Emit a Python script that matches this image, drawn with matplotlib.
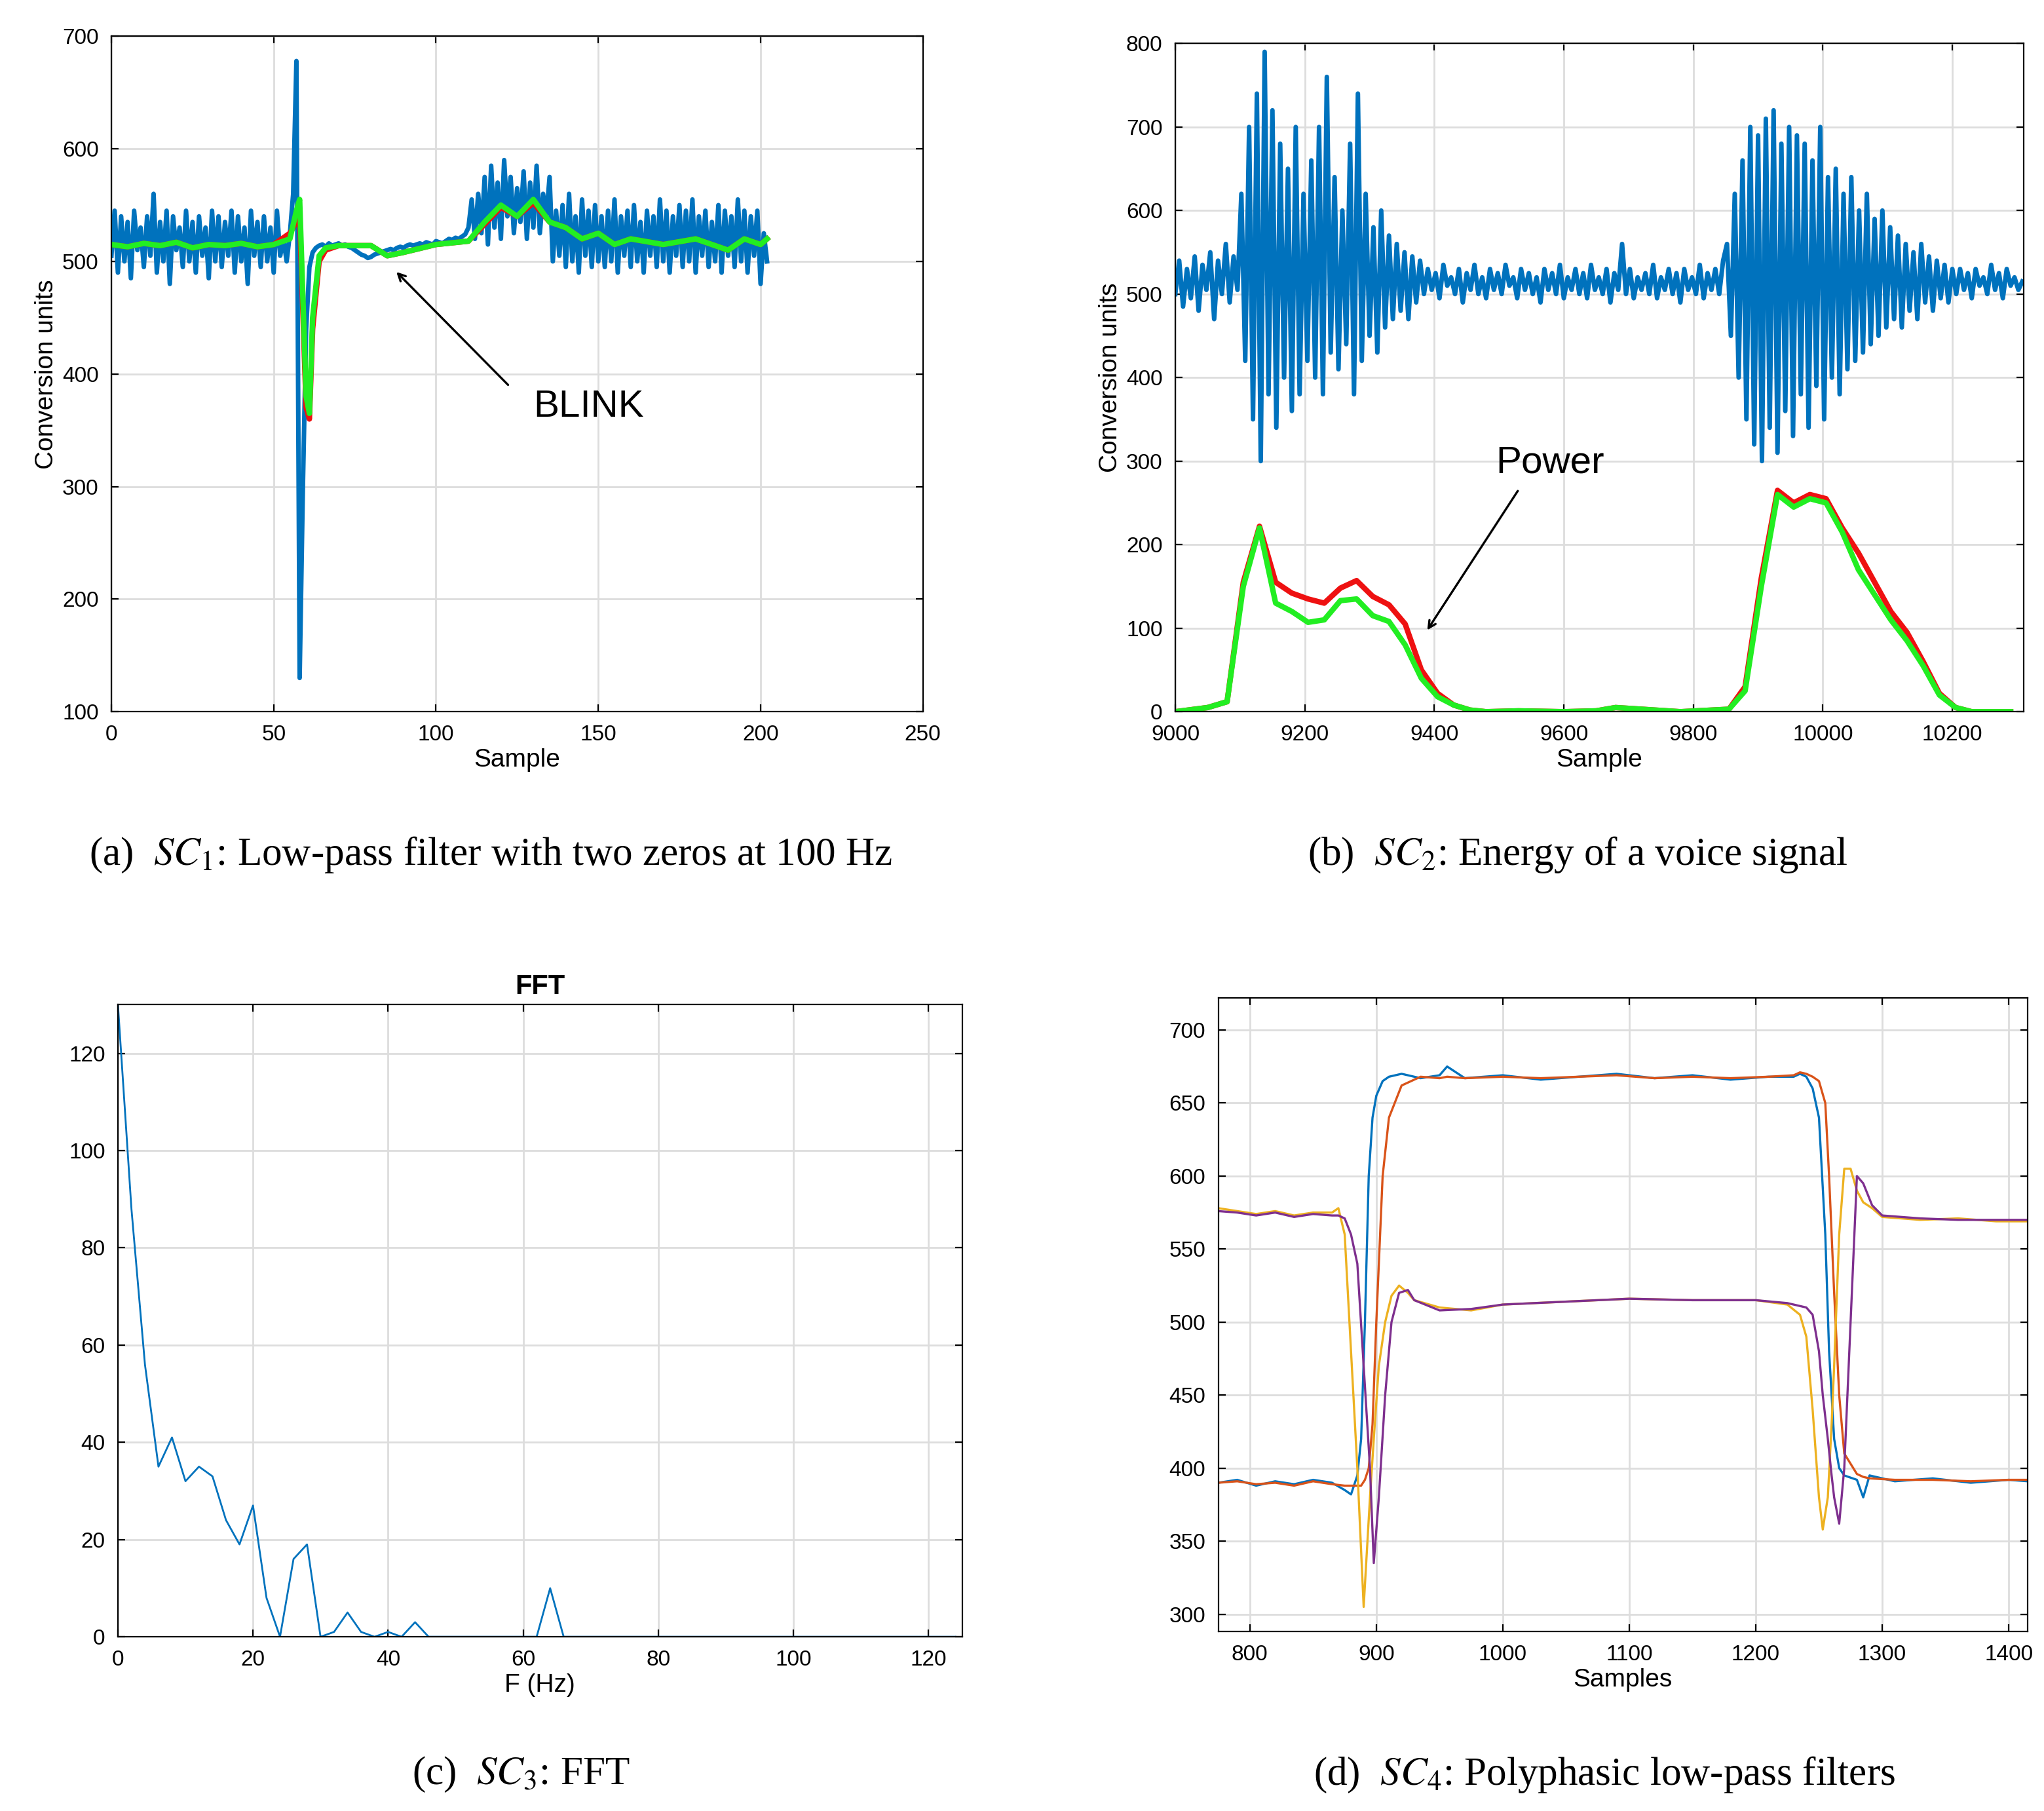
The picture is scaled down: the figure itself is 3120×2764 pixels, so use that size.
import matplotlib.pyplot as plt
import numpy as np

plt.rcParams['font.family'] = 'Liberation Sans'
plt.rcParams['mathtext.fontset'] = 'stix'

# (a) SC1 raw samples and filter outputs
a_blue = [505,545,490,540,500,535,485,545,510,530,495,540,505,560,490,535,500,545,480,540,
          510,530,495,545,500,535,490,540,505,530,485,545,500,540,495,535,505,545,490,540,
          500,530,480,545,505,535,495,540,500,530,490,545,505,520,500,525,
          560,678,130,300,440,495,508,512,
          514,515,513,516,514,515,516,514,515,513,512,510,508,506,505,503,504,506,507,508,
          509,510,511,510,512,513,512,514,515,514,515,516,515,517,516,515,518,517,516,518,
          520,519,521,520,522,524,
          530,555,520,560,525,575,515,585,530,570,520,590,540,575,525,565,535,580,520,570,
          530,585,525,560,540,575,
          500,545,505,550,495,560,500,540,490,555,505,545,495,550,500,540,495,545,500,555,
          490,540,505,545,495,550,500,535,490,545,505,540,495,555,500,545,490,540,505,550,
          495,545,500,555,490,540,505,545,495,535,500,550,490,545,505,540,495,555,500,545,
          490,540,505,545,480,525,500]
a_fx = [0,5,10,15,20,25,30,35,40,45,50,55,57,58,60,61,62,64,66,70,80,85,90,100,110,115,
        120,125,130,135,140,145,150,155,160,170,180,185,190,195,200,202]
a_green = [515,513,516,514,517,512,515,514,516,513,515,520,545,555,380,365,450,505,512,514,
           514,505,508,515,518,535,550,540,555,535,530,520,525,515,520,515,520,515,510,520,515,520]
a_red = [515,513,516,514,517,512,515,514,516,513,515,525,535,540,370,360,440,500,510,514,
         514,505,508,515,518,533,548,540,552,535,530,520,525,515,520,515,520,515,510,520,515,520]

# (b) SC2 voice signal (step 6 samples from 9000) and power
b_voice = [500,540,485,530,495,545,480,535,505,550,470,540,500,560,490,545,505,
           620,420,700,350,740,300,790,380,720,340,680,400,650,360,700,380,620,420,660,400,
           700,380,760,430,640,410,600,440,680,380,740,420,620,450,580,430,600,460,570,470,
           560,480,550,470,545,490,540,
           500,530,505,525,495,535,510,520,500,530,490,525,505,535,500,520,495,530,505,525,
           500,535,510,520,495,530,505,525,500,520,490,530,505,525,500,535,495,520,505,530,
           500,525,495,535,505,520,500,530,490,525,505,560,500,530,495,520,505,525,500,535,
           495,520,505,530,500,525,490,530,505,520,500,535,495,525,505,530,500,540,
           560,450,620,400,660,350,700,320,690,300,710,340,720,310,680,360,700,330,690,380,
           680,340,660,390,700,350,640,400,650,380,620,410,640,420,600,430,620,440,590,450,
           600,460,580,470,570,460,560,480,550,470,560,490,545,480,540,495,535,490,530,
           500,530,505,525,495,530,510,520,500,535,505,525,495,530,510,520,505,515]
b_px = [9000,9050,9080,9105,9130,9155,9180,9205,9230,9255,9280,9305,9330,9355,9380,9405,9430,
        9455,9480,9530,9600,9650,9680,9720,9780,9830,9855,9880,9905,9930,9955,9980,10005,
        10030,10055,10080,10105,10130,10155,10180,10205,10230,10290]
b_green = [0,5,12,150,220,130,120,107,110,133,135,115,108,80,40,18,8,2,0,1,0,1,5,3,0,2,3,
           25,150,260,245,255,250,215,170,140,110,85,55,20,5,0,0]
b_red = [0,5,12,155,222,155,142,135,130,148,157,138,128,105,50,22,8,2,0,1,0,1,5,3,0,2,3,
         30,160,265,250,260,255,220,190,155,120,95,60,22,5,0,0]

# (c) SC3 FFT
c_freq = list(range(0, 126, 2))
c_mag = [130,88,56,35,41,32,35,33,24,19,27,8,0,16,19,0,1,5,1,0,1,0,3,0,0,0,0,0,0,0,0,0,
         10,0] + [0] * 29

# (d) SC4 polyphasic filters
d_hx = [775,790,805,820,835,850,865,875,880,885,888,891,894,897,900,905,910,920,935,950,956,
        970,1000,1030,1060,1090,1120,1150,1180,1210,1230,1235,1240,1245,1250,1255,1258,1262,
        1266,1270,1280,1285,1290,1310,1340,1370,1400,1415]
d_blue = [390,392,388,391,389,392,390,385,382,395,420,500,600,640,655,665,668,670,667,669,675,
          667,669,666,668,670,667,669,666,668,668,670,668,660,640,560,480,420,400,395,392,380,
          395,391,393,390,392,391]
d_orange = [390,391,389,390,388,391,389,388,388,388,388,392,400,430,500,600,640,662,668,667,668,
            667,668,667,668,669,667,668,667,668,669,671,670,668,665,650,600,520,450,410,396,
            394,393,392,392,391,392,392]
d_lx = [775,790,805,820,835,850,865,870,875,880,885,890,895,898,902,907,912,918,925,930,950,
        975,1000,1050,1100,1150,1200,1225,1235,1240,1245,1250,1253,1257,1260,1262,1266,1270,
        1275,1280,1285,1292,1300,1330,1360,1390,1415]
d_yellow = [578,576,574,576,573,575,575,578,560,480,400,305,380,420,470,500,518,525,520,515,
            510,508,512,514,516,515,515,512,505,490,440,380,358,380,430,470,560,605,605,590,
            582,578,572,570,571,569,569]
d_purple = [576,575,573,575,572,574,573,573,571,560,540,470,400,335,380,450,500,520,522,515,
            508,509,512,514,516,515,515,513,511,510,505,480,450,420,395,380,362,400,500,600,
            595,580,573,571,570,570,570]

grid_kw = dict(color='#dddddd', linewidth=1)

fig = plt.figure(figsize=(15.6, 13.82), dpi=200)


def style(ax):
    ax.grid(True, **grid_kw)
    ax.set_axisbelow(True)
    ax.tick_params(direction='in', labelsize=12, length=4, pad=7, top=True, right=True)
    for s in ax.spines.values():
        s.set_linewidth(0.8)


cap_kw = dict(ha='center', va='center', fontsize=22, family='Liberation Serif')

# (a)
ax = fig.add_axes([0.0545, 0.607, 0.397, 0.373])
ax.plot(np.arange(len(a_blue)), a_blue, color='#0072BD', lw=2.5)
ax.plot(a_fx, a_red, color='#ee1111', lw=3)
ax.plot(a_fx, a_green, color='#22ee22', lw=3)
ax.set_xlim(0, 250)
ax.set_ylim(100, 700)
ax.set_xlabel('Sample', fontsize=14, labelpad=2)
ax.set_ylabel('Conversion units', fontsize=14, labelpad=2)
ax.annotate('', xy=(87, 493), xytext=(123, 388),
            arrowprops=dict(arrowstyle='->', color='black', lw=1.2))
ax.text(130, 371, 'BLINK', fontsize=21, va='center')
style(ax)
fig.text(0.24, 0.528, r'(a)  $SC_1$: Low-pass filter with two zeros at 100 Hz', **cap_kw)

# (b)
ax = fig.add_axes([0.575, 0.607, 0.415, 0.369])
ax.plot(9000 + 6 * np.arange(len(b_voice)), b_voice, color='#0072BD', lw=2.5)
ax.plot(b_px, b_red, color='#ee1111', lw=3)
ax.plot(b_px, b_green, color='#22ee22', lw=3)
ax.set_xlim(9000, 10310)
ax.set_ylim(0, 800)
ax.set_xticks(range(9000, 10300, 200))
ax.set_xlabel('Sample', fontsize=14, labelpad=2)
ax.set_ylabel('Conversion units', fontsize=14, labelpad=2)
ax.annotate('', xy=(9386, 94), xytext=(9532, 268),
            arrowprops=dict(arrowstyle='->', color='black', lw=1.2))
ax.text(9495, 298, 'Power', fontsize=21, va='center')
style(ax)
fig.text(0.772, 0.528, r'(b)  $SC_2$: Energy of a voice signal', **cap_kw)

# (c)
ax = fig.add_axes([0.0577, 0.0962, 0.413, 0.349])
ax.plot(c_freq, c_mag, color='#0072BD', lw=1)
ax.set_xlim(0, 125)
ax.set_ylim(0, 130)
ax.set_xlabel('F (Hz)', fontsize=14, labelpad=2)
ax.set_title('FFT', fontsize=15, fontweight='bold')
style(ax)
fig.text(0.255, 0.02, r'(c)  $SC_3$: FFT', **cap_kw)

# (d)
ax = fig.add_axes([0.596, 0.099, 0.396, 0.350])
ax.plot(d_hx, d_blue, color='#0072BD', lw=1.2)
ax.plot(d_hx, d_orange, color='#D95319', lw=1.2)
ax.plot(d_lx, d_yellow, color='#EDB120', lw=1.2)
ax.plot(d_lx, d_purple, color='#7E2F8E', lw=1.2)
ax.set_xlim(775, 1415)
ax.set_ylim(288, 722)
ax.set_xticks(range(800, 1401, 100))
ax.set_yticks(range(300, 701, 50))
ax.set_xlabel('Samples', fontsize=14, labelpad=2)
style(ax)
fig.text(0.785, 0.02, r'(d)  $SC_4$: Polyphasic low-pass filters', **cap_kw)

fig.savefig('out.png', dpi=200)
